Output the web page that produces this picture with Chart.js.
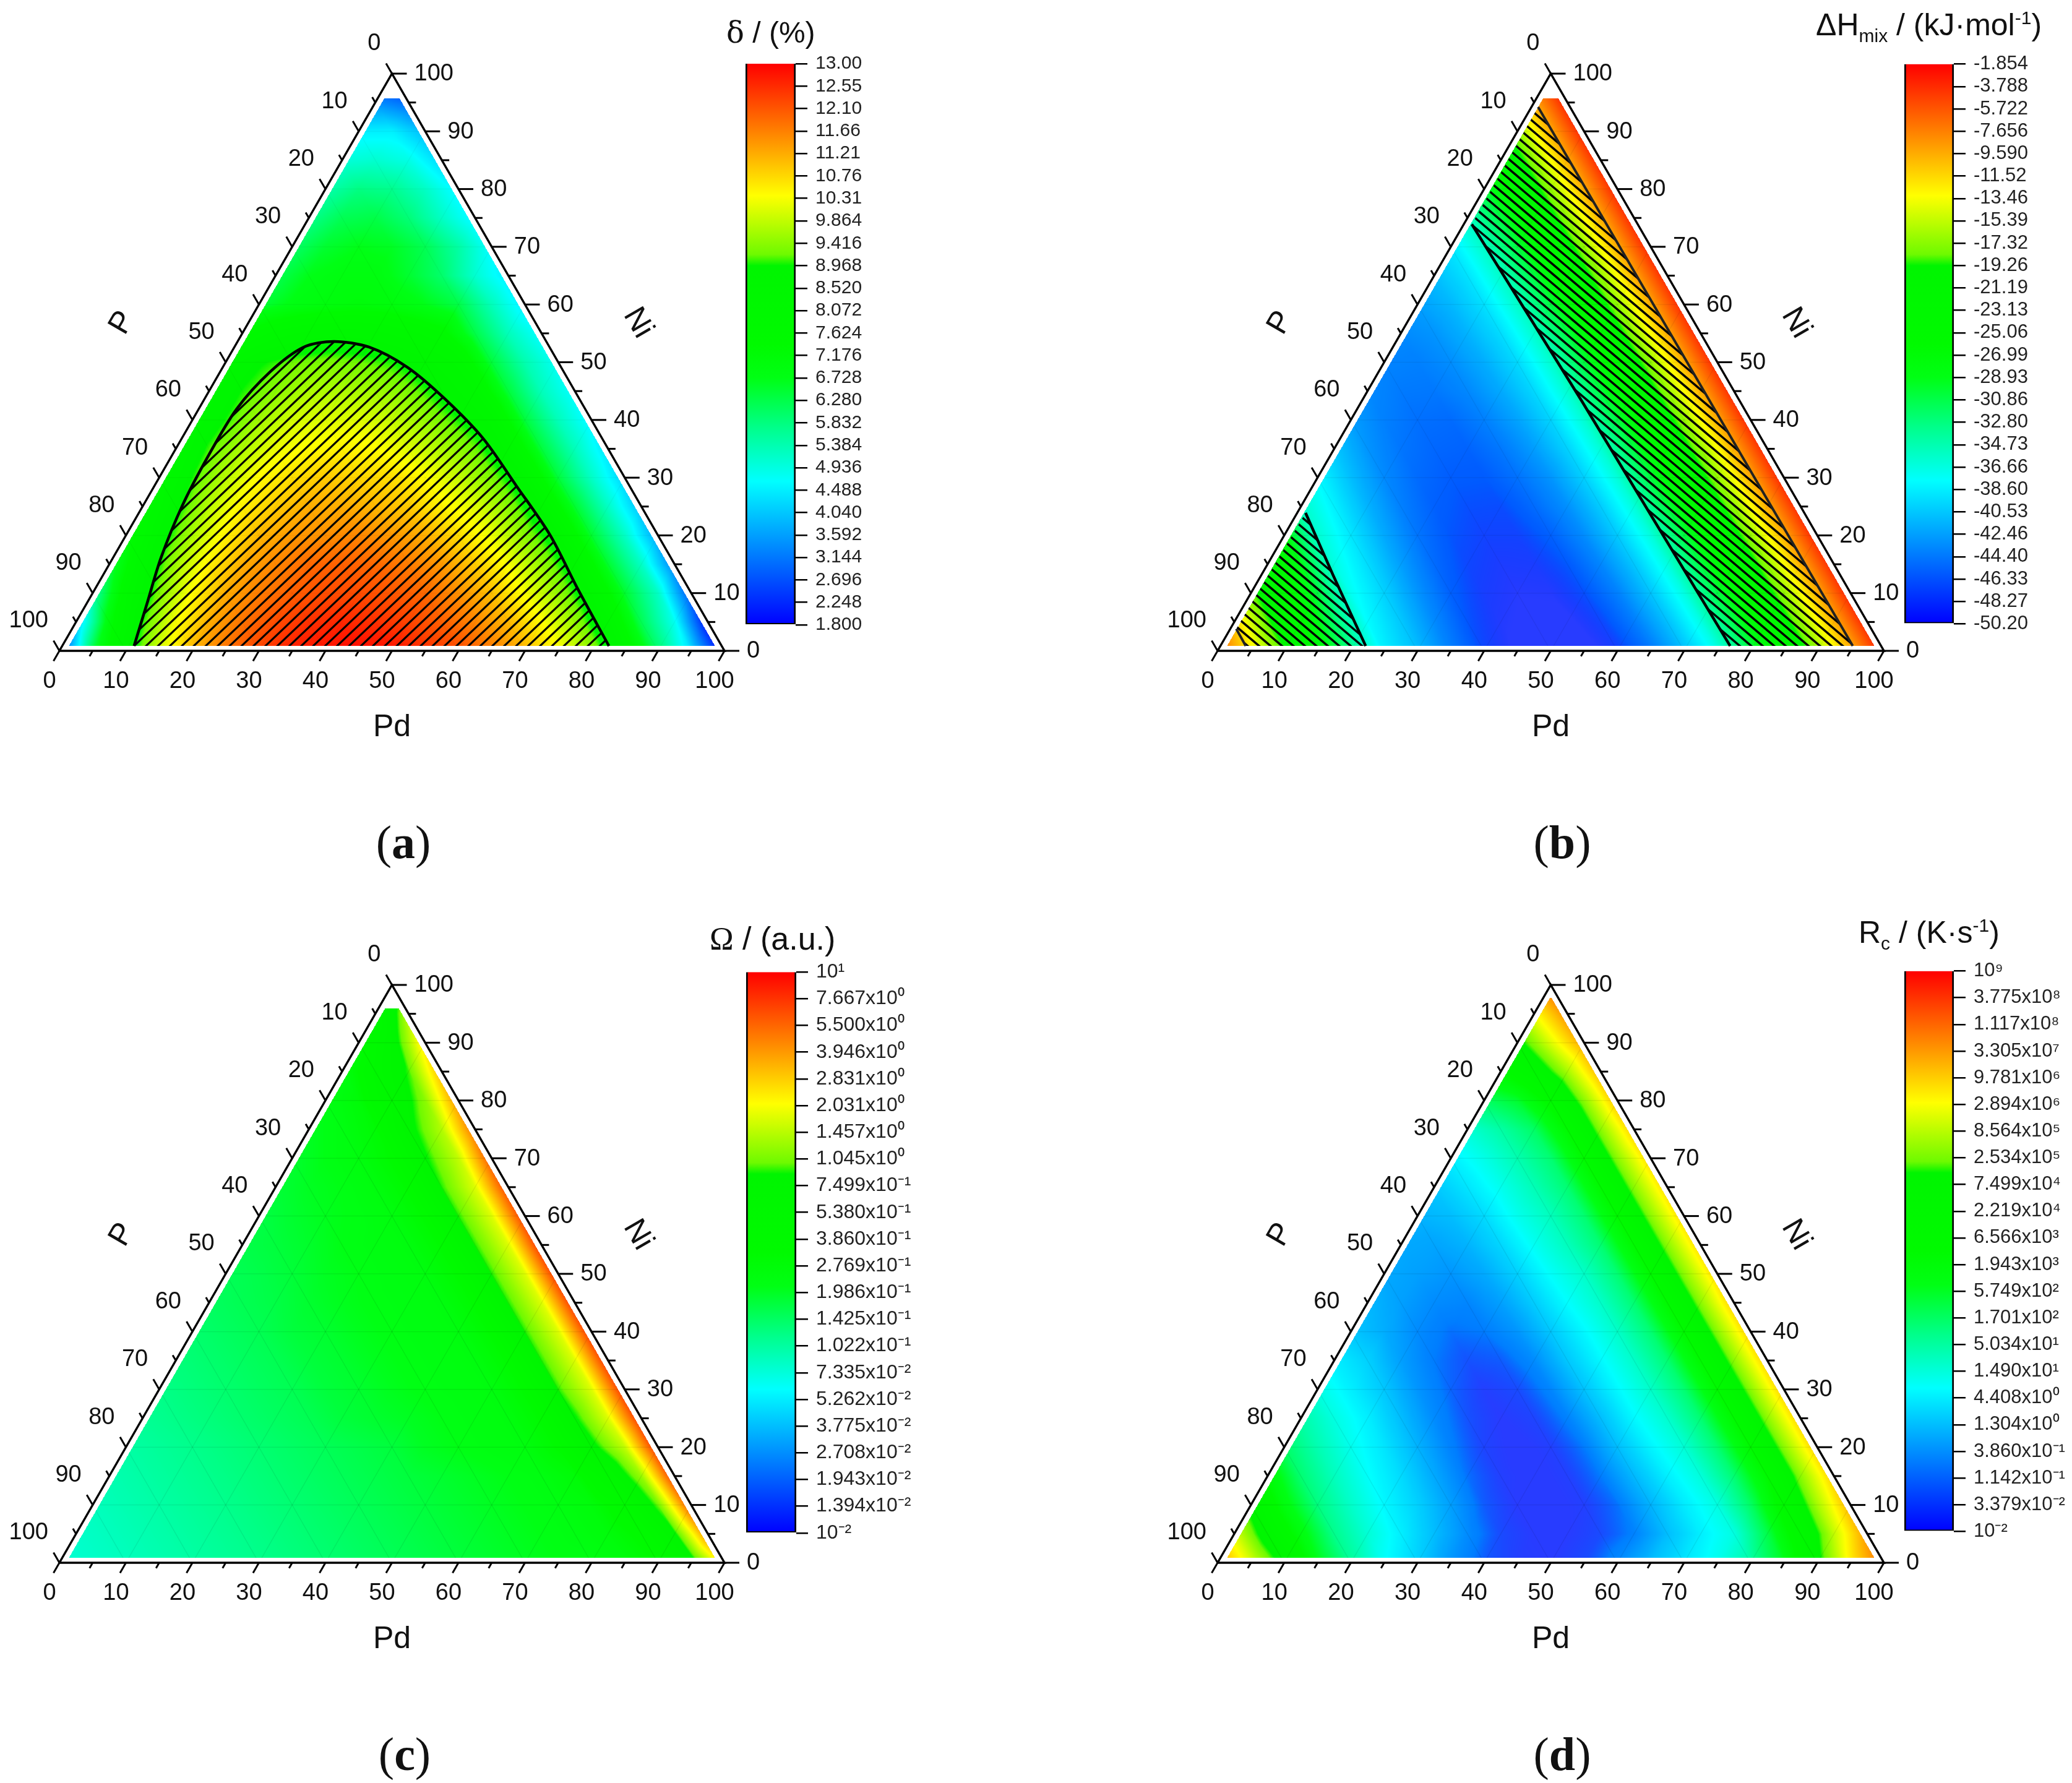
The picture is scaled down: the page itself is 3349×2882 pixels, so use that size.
<!DOCTYPE html>
<html>
<head>
<meta charset="utf-8">
<script src="https://cdn.jsdelivr.net/npm/chart.js@4"></script>
<style>
  html, body { margin: 0; background: #fff; }
  body { position: relative; width: 3349px; height: 2882px; overflow: hidden; font-family: "Liberation Sans", Arial, sans-serif; color: #111; }
  canvas { position: absolute; }
  .title { position: absolute; white-space: nowrap; transform: translateY(-50%); }
  .title sub, .title sup { font-size: 60%; line-height: 0; }
  .panel { position: absolute; font: 76px "Liberation Serif", serif; transform: translate(-50%, -50%); }
</style>
</head>
<body>
<script>
// ---- tick labels shared by the three ternary axes
const majorTicks = [0, 10, 20, 30, 40, 50, 60, 70, 80, 90, 100];
const minorTicks = [5, 15, 25, 35, 45, 55, 65, 75, 85, 95];

// ---- colour bar labels, top to bottom
const deltaLabels = ["13.00","12.55","12.10","11.66","11.21","10.76","10.31","9.864","9.416","8.968","8.520","8.072","7.624","7.176","6.728","6.280","5.832","5.384","4.936","4.488","4.040","3.592","3.144","2.696","2.248","1.800"];
const hmixLabels = ["-1.854","-3.788","-5.722","-7.656","-9.590","-11.52","-13.46","-15.39","-17.32","-19.26","-21.19","-23.13","-25.06","-26.99","-28.93","-30.86","-32.80","-34.73","-36.66","-38.60","-40.53","-42.46","-44.40","-46.33","-48.27","-50.20"];
const omegaLabels = ["10¹","7.667x10⁰","5.500x10⁰","3.946x10⁰","2.831x10⁰","2.031x10⁰","1.457x10⁰","1.045x10⁰","7.499x10⁻¹","5.380x10⁻¹","3.860x10⁻¹","2.769x10⁻¹","1.986x10⁻¹","1.425x10⁻¹","1.022x10⁻¹","7.335x10⁻²","5.262x10⁻²","3.775x10⁻²","2.708x10⁻²","1.943x10⁻²","1.394x10⁻²","10⁻²"];
const rcLabels = ["10⁹","3.775x10⁸","1.117x10⁸","3.305x10⁷","9.781x10⁶","2.894x10⁶","8.564x10⁵","2.534x10⁵","7.499x10⁴","2.219x10⁴","6.566x10³","1.943x10³","5.749x10²","1.701x10²","5.034x10¹","1.490x10¹","4.408x10⁰","1.304x10⁰","3.860x10⁻¹","1.142x10⁻¹","3.379x10⁻²","10⁻²"];

// ---- values on the composition grid: one row per Ni = 0, 5, ... 100, inside a row Pd = 0, 5, ...
// delta in %
const deltaGrid = [
  [2.4,6.3,8.5,10,11.1,11.8,12.3,12.7,12.8,12.9,12.8,12.5,12.2,11.7,11.1,10.4,9.5,8,6,4.3,1.8],
  [3.9,7.1,9,10.3,11.2,11.8,12.2,12.5,12.6,12.5,12.3,12,11.6,11.1,10.4,9.5,8.3,6.2,4.8,1.9],
  [5.3,7.8,9.3,10.4,11.2,11.7,12,12.2,12.2,12.1,11.9,11.5,11,10.3,9.5,8.5,6.5,5.2,2.7],
  [6.2,8.3,9.6,10.5,11.2,11.6,11.9,12,11.9,11.7,11.4,10.9,10.3,9.5,8.6,6.5,5.2,3.2],
  [6.9,8.6,9.7,10.5,11.1,11.4,11.5,11.6,11.4,11.2,10.7,10.2,9.4,8.6,6.5,5.2,3.6],
  [7.4,8.8,9.8,10.5,10.9,11.2,11.2,11.1,10.9,10.5,10.1,9.4,8.5,6.5,5.2,3.9],
  [7.8,9,9.8,10.4,10.7,10.9,10.8,10.7,10.4,9.9,9.3,8.5,6.4,5.2,4.1],
  [8,9.1,9.7,10.2,10.4,10.5,10.4,10.1,9.7,9.2,8.4,6.4,5.3,4.3],
  [8.2,9,9.6,10,10.1,10.1,9.9,9.5,9,8.4,6.4,5.3,4.5],
  [8.3,9,9.4,9.7,9.7,9.6,9.3,8.8,8.2,6.4,5.3,4.6],
  [8.2,8.9,9.2,9.3,9.2,9,8.6,8.1,6.4,5.4,4.7],
  [7.4,8,8.3,8.4,8.3,8,7.6,6.3,5.3,4.6],
  [6.4,6.8,7,7.1,7,6.7,6.3,5.3,4.4],
  [6.2,6.7,6.9,6.9,6.5,6,5.1,4.4],
  [6,6.5,6.7,6.6,6.2,5.5,4.6],
  [5.7,6.2,6.3,5.9,5.2,4.5],
  [5.4,5.8,5.7,5.2,4.5],
  [5,5.1,4.9,4.2],
  [4.5,4.5,3.9],
  [3.4,3],
  [2]
];
// mixing enthalpy in kJ/mol
const hmixGrid = [
  [-6,-12.5,-19,-27,-33,-38.5,-41,-44,-46.5,-48,-48.7,-48.5,-47,-44.5,-41,-37,-31,-24,-17,-10,-3],
  [-11,-18.5,-25.5,-32,-37.9,-40.5,-43.5,-46,-47.5,-48.2,-48.1,-46.6,-44.2,-40.9,-36.8,-30.8,-24,-17,-9.8,-3],
  [-18,-24.5,-30.5,-37.3,-40,-43,-45.5,-47,-47.7,-47.6,-46.2,-44,-40.7,-36.7,-30.7,-24,-17,-9.7,-3],
  [-23.5,-29,-36.7,-39.5,-42.5,-45,-46.5,-47.2,-47.1,-45.9,-43.7,-40.6,-36.6,-30.6,-24,-17,-9.6,-3],
  [-28,-36,-39,-42,-44.5,-46,-46.7,-46.7,-45.5,-43.4,-40.4,-36.5,-30.6,-24,-17,-9.6,-3],
  [-35.5,-38.5,-41.5,-44,-45.5,-46.2,-46.3,-45,-43.2,-40.3,-36.4,-30.5,-24,-17,-9.5,-3],
  [-38,-41,-43.5,-45,-45.7,-45.8,-44.7,-43,-40.1,-36.3,-30.5,-24,-17,-9.5,-3],
  [-40.5,-43,-44.5,-45.2,-45.4,-44.4,-42.6,-40,-36.2,-30.5,-24,-17,-9.5,-3],
  [-42.5,-44,-44.8,-45,-44,-42.3,-39.9,-36.1,-30.5,-24,-17,-9.5,-3],
  [-43.5,-44.3,-44.4,-43.6,-42,-39.7,-36,-30.5,-24,-17,-9.5,-3],
  [-43.8,-44,-43.3,-41.8,-39.6,-36,-30.5,-24,-17,-9.5,-3],
  [-43.5,-43,-41.5,-39.5,-35.9,-30.5,-24,-17,-9.5,-3],
  [-42.5,-41.3,-39.3,-35.8,-30.5,-24,-17,-9.5,-3],
  [-41,-39.2,-35.7,-30.5,-24,-17,-9.5,-3],
  [-39,-35.6,-30.5,-24,-17,-9.5,-3],
  [-35.5,-30.5,-24,-17,-9.5,-3],
  [-30.5,-24,-17,-9.5,-3],
  [-24,-17,-9.5,-3],
  [-17,-9.5,-3],
  [-9.5,-3],
  [-3]
];
// log10 of Omega
const omegaGrid = [
  [-1.13,-1.1,-1.07,-1.04,-1.01,-.98,-.95,-.92,-.89,-.86,-.83,-.8,-.77,-.74,-.71,-.68,-.67,-.62,-.5,-.2,.4],
  [-1.1,-1.07,-1.04,-1.01,-.98,-.95,-.92,-.89,-.86,-.83,-.8,-.77,-.74,-.71,-.68,-.65,-.59,-.47,-.11,.64],
  [-1.07,-1.04,-1.01,-.98,-.95,-.92,-.89,-.86,-.83,-.8,-.77,-.74,-.71,-.68,-.65,-.59,-.41,-.02,.79],
  [-1.04,-1.01,-.98,-.95,-.92,-.89,-.86,-.83,-.8,-.77,-.74,-.71,-.68,-.65,-.56,-.29,.07,.88],
  [-1.01,-.98,-.95,-.92,-.89,-.86,-.83,-.8,-.77,-.71,-.68,-.65,-.62,-.5,-.14,.16,.91],
  [-.97,-.94,-.91,-.88,-.85,-.82,-.77,-.74,-.71,-.68,-.65,-.62,-.5,-.1,.22,.91],
  [-.94,-.91,-.88,-.85,-.82,-.77,-.74,-.7,-.67,-.65,-.62,-.5,-.065,.22,.91],
  [-.91,-.88,-.85,-.82,-.77,-.74,-.7,-.67,-.65,-.62,-.5,-.065,.22,.91],
  [-.88,-.85,-.82,-.77,-.74,-.7,-.67,-.65,-.62,-.5,-.065,.22,.91],
  [-.85,-.82,-.79,-.74,-.7,-.67,-.65,-.62,-.5,-.065,.22,.91],
  [-.83,-.8,-.76,-.71,-.68,-.65,-.62,-.5,-.065,.22,.91],
  [-.8,-.77,-.73,-.68,-.65,-.62,-.5,-.065,.22,.91],
  [-.79,-.74,-.7,-.67,-.62,-.5,-.065,.22,.88],
  [-.76,-.71,-.68,-.62,-.5,-.065,.22,.85],
  [-.74,-.68,-.62,-.5,-.1,.16,.79],
  [-.71,-.65,-.53,-.14,.13,.7],
  [-.68,-.56,-.26,.04,.61],
  [-.65,-.35,-.05,.52],
  [-.59,-.2,.4],
  [-.5,.16],
  [-.2]
];
// log10 of Rc
const rcGrid = [
  [7.46,6.14,4.82,2.84,1.74,.86,.31,-.35,-.79,-1.01,-1.07,-.9,-.46,.09,.53,.97,1.63,2.73,4.82,6.58,7.9],
  [6.14,4.6,3.06,1.85,1.19,.64,.09,-.46,-.9,-1.07,-1.07,-.9,-.57,.09,.64,1.08,2.4,4.05,5.92,7.46],
  [4.82,3.06,1.96,1.3,.75,.31,-.24,-.79,-1.07,-1.12,-1.01,-.68,-.02,.59,1.08,2.18,3.83,5.7,7.24],
  [3.28,2.07,1.41,.86,.42,-.13,-.68,-1.01,-1.12,-1.01,-.63,.04,.64,1.14,2.07,3.5,5.48,7.02],
  [2.18,1.52,.97,.53,-.02,-.57,-.96,-1.12,-1.01,-.63,.09,.7,1.19,2.07,3.5,5.48,7.02],
  [1.63,1.08,.64,.09,-.46,-.85,-1.07,-.96,-.57,.09,.75,1.25,2.07,3.5,5.48,7.02],
  [1.08,.64,.2,-.35,-.74,-1.01,-.9,-.52,.15,.75,1.3,2.07,3.5,5.48,7.02],
  [.64,.31,-.24,-.63,-.85,-.79,-.46,.2,.75,1.3,2.07,3.5,5.48,7.02],
  [.2,-.08,-.46,-.68,-.63,-.35,.2,.75,1.3,2.07,3.5,5.48,7.02],
  [.04,-.24,-.46,-.52,-.24,.26,.81,1.3,2.07,3.5,5.48,7.02],
  [-.13,-.24,-.35,-.13,.31,.86,1.3,2.07,3.5,5.48,6.91],
  [-.13,-.19,-.02,.37,.92,1.41,2.07,3.5,5.48,6.91],
  [-.02,.09,.42,.97,1.41,2.07,3.5,5.48,6.91],
  [.2,.53,.97,1.47,2.07,3.5,5.48,6.91],
  [.64,1.03,1.52,2.07,3.5,5.48,6.91],
  [1.19,1.63,2.18,3.5,5.48,7.02],
  [2.18,2.62,3.72,5.48,7.13],
  [3.5,4.38,5.7,7.24],
  [4.82,6.14,7.35],
  [6.36,7.57],
  [7.9]
];

// ---- boundaries of the hatched regions, in composition units
const deltaEdgePd = [10.8,9.1,7.2,5.9,5.5,5.7,7.5,10.4,14.5,20.3,27.8,36.2,45.3,54.4,63.7,72.6,82.2];
const deltaEdgeNi = [0.85,8.1,16.2,25.2,33.8,41.9,48.3,52.6,53.6,52.6,49.1,43.6,36.8,28.6,20.1,10.7,0.85];
const hmixInnerPd = [1.2,33.1,76.5];
const hmixInnerNi = [73.9,43.2,0.85];
const hmixOuterPd = [1,94.9];
const hmixOuterNi = [94.2,0.85];
const hmixLowPd = [1.25,10.7,21.8];
const hmixLowNi = [23.9,13.2,0.85];
const hmixCornerPd = [0.9,3.8];
const hmixCornerNi = [3.8,0.85];

// ---- colour map of the colour bars, position from bottom (0) to top (1)
const mapStops = [0, .256, .35, .44, .5, .64, .66, .765, .88, 1];
const mapColors = [[0,0,255],[0,255,255],[0,255,140],[0,255,20],[0,250,0],[0,245,0],[110,250,0],[255,255,0],[255,128,0],[255,0,0]];

const colorLut = [];
for (let i = 0; i <= 1023; i++) {
    const f = i / 1023;
    let k = 0;
    while (k < mapStops.length - 2 && f > mapStops[k + 1]) k++;
    const t = (f - mapStops[k]) / (mapStops[k + 1] - mapStops[k]);
    colorLut.push(mapColors[k].map((c, n) => Math.round(c + (mapColors[k + 1][n] - c) * t)));
}
// the deepest values of (b) and (d) show a lighter violet blue in the field than in the bar
const deepBlue = [40, 60, 255];

// composition -> scale coordinates (x runs along the Pd axis, y along Ni)
const toXY = (pd, ni) => ({ x: pd + ni / 2, y: ni });
const edgePoints = (pds, nis) => pds.map((p, i) => toXY(p, nis[i]));

function gridValue(grid, pd, ni) {
    const gi = Math.min(Math.floor(ni / 5), 19);
    const gj = Math.min(Math.floor(pd / 5), 19 - gi);
    const u = pd / 5 - gj, v = ni / 5 - gi;
    if (u + v <= 1) return grid[gi][gj] * (1 - u - v) + grid[gi][gj + 1] * u + grid[gi + 1][gj] * v;
    return grid[gi + 1][gj + 1] * (u + v - 1) + grid[gi][gj + 1] * (1 - v) + grid[gi + 1][gj] * (1 - u);
}

const ternaryPlugin = {
    id: "ternary",
    beforeDatasetsDraw(chart, args, o) {
        const { ctx, scales: { x, y } } = chart;
        const a = chart.chartArea;
        const px = (pd, ni) => [x.getPixelForValue(pd + ni / 2), y.getPixelForValue(ni)];
        const trace = (pts) => {
            ctx.beginPath();
            pts.forEach((p, i) => { const q = px(p[0], p[1]); i ? ctx.lineTo(q[0], q[1]) : ctx.moveTo(q[0], q[1]); });
            ctx.closePath();
        };

        // colour field
        const w = Math.ceil(a.right - a.left), h = Math.ceil(a.bottom - a.top);
        const off = document.createElement("canvas");
        off.width = w; off.height = h;
        const oc = off.getContext("2d");
        const img = oc.createImageData(w, h);
        for (let j = 0; j < h; j++) {
            const ni = y.getValueForPixel(a.top + j + 0.5);
            if (ni < 0.85 || ni > o.top) continue;
            for (let i = 0; i < w; i++) {
                const pd = x.getValueForPixel(a.left + i + 0.5) - ni / 2;
                if (pd < 1 || 100 - pd - ni < 1) continue;
                const f = (gridValue(o.grid, pd, ni) - o.min) / (o.max - o.min);
                const c = colorLut[Math.max(0, Math.min(1023, Math.round(f * 1023)))];
                // blend towards the violet blue over a small range of the deepest values
                const mix = o.deep ? Math.max(0, Math.min(1, (o.deep[1] - f) / (o.deep[1] - o.deep[0]))) : 0;
                const n = (j * w + i) * 4;
                img.data[n] = c[0] + (deepBlue[0] - c[0]) * mix;
                img.data[n + 1] = c[1] + (deepBlue[1] - c[1]) * mix;
                img.data[n + 2] = c[2] + (deepBlue[2] - c[2]) * mix;
                img.data[n + 3] = 255;
            }
        }
        oc.putImageData(img, 0, 0);
        ctx.drawImage(off, a.left, a.top);

        // faint 10% grid on the colour field
        ctx.save();
        trace([[1, 0.85], [98.15, 0.85], [99 - o.top, o.top], [1, o.top]]);
        ctx.clip();
        ctx.strokeStyle = "rgba(0,0,0," + o.gridAlpha + ")";
        ctx.lineWidth = 1.5;
        majorTicks.slice(1, -1).forEach(t => {
            [[[0, t], [100 - t, t]], [[t, 0], [t, 100 - t]], [[0, 100 - t], [100 - t, 0]]].forEach(seg => {
                const p = px(seg[0][0], seg[0][1]), q = px(seg[1][0], seg[1][1]);
                ctx.beginPath(); ctx.moveTo(p[0], p[1]); ctx.lineTo(q[0], q[1]); ctx.stroke();
            });
        });
        ctx.restore();

        // hatching inside the marked regions
        o.hatch.forEach(poly => {
            ctx.save();
            trace(poly);
            ctx.clip();
            ctx.strokeStyle = "#000";
            ctx.lineWidth = o.hatchWidth;
            const span = a.bottom - a.top;
            for (let k = -1200; k < 2400; k += o.hatchStep) {
                ctx.beginPath();
                ctx.moveTo(a.left + k, a.bottom);
                ctx.lineTo(a.left + k + span * o.hatchRun, a.top);
                ctx.stroke();
            }
            ctx.restore();
        });
    },
    afterDatasetsDraw(chart, args, o) {
        const { ctx, scales: { x, y } } = chart;
        const px = (pd, ni) => [x.getPixelForValue(pd + ni / 2), y.getPixelForValue(ni)];
        ctx.save();
        ctx.strokeStyle = "#000";
        ctx.fillStyle = "#111";
        ctx.lineWidth = 3;
        const tick = (p, dx, dy) => { ctx.beginPath(); ctx.moveTo(p[0], p[1]); ctx.lineTo(p[0] + dx, p[1] + dy); ctx.stroke(); };
        const drawTicks = (list, major) => list.forEach(t => {
            const side = major ? 24 : 12, slant = major ? 19 : 10;
            tick(px(t, 0), -slant * 0.5, slant * 0.866);           // Pd, bottom
            tick(px(100 - t, t), side, 0);                         // Ni, right
            tick(px(0, 100 - t), -slant * 0.5, -slant * 0.866);    // P, left
        });
        drawTicks(majorTicks, true);
        drawTicks(minorTicks, false);

        ctx.font = "38px 'Liberation Sans', Arial, sans-serif";
        ctx.textBaseline = "middle";
        majorTicks.forEach(t => {
            let p = px(t, 0);
            ctx.textAlign = "center";
            ctx.fillText(String(t), p[0] - 16, p[1] + 50);
            p = px(100 - t, t);
            ctx.textAlign = "left";
            ctx.fillText(String(t), p[0] + 36, p[1] + 1);
            p = px(0, 100 - t);
            ctx.textAlign = "right";
            ctx.fillText(String(t), p[0] - 18, p[1] - 48);
        });

        // axis titles
        const a = chart.chartArea;
        ctx.font = "50px 'Liberation Sans', Arial, sans-serif";
        ctx.textAlign = "center";
        ctx.fillText("Pd", (a.left + a.right) / 2, a.bottom + 124);
        const rot = (txt, dx, ang) => {
            ctx.save();
            ctx.translate(a.left + dx, a.bottom - 530);
            ctx.rotate(ang);
            ctx.fillText(txt, 0, 0);
            ctx.restore();
        };
        rot("P", 102, -Math.PI / 3);
        rot("Ni", 935, Math.PI / 3);
        ctx.restore();
    }
};

function makeTernary(box, left, top, right, bottom, opts, datasets) {
    const cv = document.createElement("canvas");
    cv.width = box.w; cv.height = box.h;
    cv.style.left = box.x + "px"; cv.style.top = box.y + "px";
    document.body.appendChild(cv);
    const frame = { data: [toXY(0, 0), toXY(100, 0), toXY(0, 100), toXY(0, 0)], borderColor: "#000", borderWidth: 3.5 };
    const all = datasets.concat([frame]).map(d => Object.assign({ showLine: true, pointRadius: 0, clip: false, tension: 0 }, d));
    return new Chart(cv, {
        type: "scatter",
        data: { datasets: all },
        options: {
            responsive: false,
            animation: false,
            layout: { padding: { left: left - box.x, top: top - box.y, right: box.x + box.w - right, bottom: box.y + box.h - bottom } },
            scales: {
                x: { type: "linear", min: 0, max: 100, display: false },
                y: { type: "linear", min: 0, max: 100, display: false }
            },
            plugins: { legend: { display: false }, tooltip: { enabled: false }, ternary: opts }
        },
        plugins: [ternaryPlugin]
    });
}

function makeBar(left, top, right, bottom, labels, fontSize) {
    const cv = document.createElement("canvas");
    const pad = 30, axisW = 210;
    cv.width = right - left + pad + axisW; cv.height = bottom - top + pad * 2;
    cv.style.left = (left - pad) + "px"; cv.style.top = (top - pad) + "px";
    document.body.appendChild(cv);
    const n = labels.length - 1;
    return new Chart(cv, {
        type: "bar",
        data: {
            labels: [""],
            datasets: [{
                data: [[0, n]],
                barPercentage: 1,
                categoryPercentage: 1,
                borderColor: "#000",
                borderWidth: { left: 3, right: 3, top: 0, bottom: 2 },
                borderSkipped: false,
                backgroundColor: ctx => {
                    const a = ctx.chart.chartArea;
                    if (!a) return "#000";
                    const g = ctx.chart.ctx.createLinearGradient(0, a.bottom, 0, a.top);
                    mapStops.forEach((s, i) => g.addColorStop(s, "rgb(" + mapColors[i].join(",") + ")"));
                    return g;
                }
            }]
        },
        options: {
            responsive: false,
            animation: false,
            layout: { padding: { left: pad, top: pad, right: 0, bottom: pad } },
            scales: {
                x: { display: false },
                y: {
                    position: "right",
                    min: 0,
                    max: n,
                    afterFit: s => { s.width = axisW; },
                    afterBuildTicks: s => { s.ticks = labels.map((l, i) => ({ value: i })); },
                    grid: { drawOnChartArea: false, tickLength: 19, tickColor: "#000", lineWidth: 2.5, tickWidth: 2.5 },
                    border: { display: false },
                    ticks: {
                        autoSkip: false,
                        padding: 13,
                        color: "#222",
                        font: { family: "'Liberation Sans', Arial, sans-serif", size: fontSize },
                        callback: v => labels[n - v]
                    }
                }
            },
            plugins: { legend: { display: false }, tooltip: { enabled: false } }
        }
    });
}

function addTitle(html, left, midY, size) {
    const d = document.createElement("div");
    d.className = "title";
    d.innerHTML = html;
    d.style.left = left + "px"; d.style.top = midY + "px"; d.style.fontSize = size + "px";
    document.body.appendChild(d);
}
function addPanelTag(letter, cx, cy) {
    const d = document.createElement("div");
    d.className = "panel";
    d.innerHTML = "(<b>" + letter + "</b>)";
    d.style.left = cx + "px"; d.style.top = cy + "px";
    document.body.appendChild(d);
}

const boxA = { x: 0, y: 0, w: 1260, h: 1250 };
const boxB = { x: 1880, y: 0, w: 1260, h: 1250 };
const boxC = { x: 0, y: 1470, w: 1260, h: 1250 };
const boxD = { x: 1880, y: 1470, w: 1260, h: 1250 };
const rowOf = (pds, nis) => pds.map((p, i) => [p, nis[i]]);

makeTernary(boxA, 96, 119, 1171, 1052, {
    grid: deltaGrid, min: 1.8, max: 13, top: 95.7, gridAlpha: 0.035,
    hatch: [rowOf(deltaEdgePd, deltaEdgeNi)], hatchStep: 19.3, hatchRun: 1.05, hatchWidth: 3.2
}, [{ data: edgePoints(deltaEdgePd, deltaEdgeNi), borderColor: "#000", borderWidth: 4.5, tension: 0.3 }]);

makeTernary(boxB, 1968, 119, 3045, 1052, {
    grid: hmixGrid, min: -50.2, max: -1.854, top: 95.7, gridAlpha: 0.06, deep: [0.05, 0.09],
    hatch: [
        rowOf(hmixInnerPd, hmixInnerNi).concat(rowOf(hmixOuterPd, hmixOuterNi).reverse()),
        rowOf(hmixLowPd, hmixLowNi).concat(rowOf(hmixCornerPd, hmixCornerNi).reverse())
    ],
    hatchStep: 18.5, hatchRun: -1.18, hatchWidth: 3.5
}, [
    { data: edgePoints(hmixInnerPd, hmixInnerNi), borderColor: "#000", borderWidth: 4.5 },
    { data: edgePoints(hmixOuterPd, hmixOuterNi), borderColor: "#222", borderWidth: 4 },
    { data: edgePoints(hmixLowPd, hmixLowNi), borderColor: "#000", borderWidth: 4.5 },
    { data: edgePoints(hmixCornerPd, hmixCornerNi), borderColor: "#222", borderWidth: 4 }
]);

makeTernary(boxC, 96, 1592, 1171, 2526, {
    grid: omegaGrid, min: -2, max: 1, top: 95.9, gridAlpha: 0.07, hatch: []
}, []);

makeTernary(boxD, 1968, 1592, 3045, 2526, {
    grid: rcGrid, min: -2, max: 9, top: 97.8, gridAlpha: 0.07, deep: [0.085, 0.125], hatch: []
}, []);

makeBar(1205, 102, 1286, 1011, deltaLabels, 30);
makeBar(3078, 102, 3158, 1010, hmixLabels, 31);
makeBar(1206, 1569, 1287, 2480, omegaLabels, 32);
makeBar(3078, 1568, 3158, 2477, rcLabels, 31);

addTitle("<span style=\"font-family:'DejaVu Serif'\">δ</span> / (%)", 1174, 52, 48);
addTitle("ΔH<sub>mix</sub> / (kJ·mol<sup>-1</sup>)", 2935, 40, 50);
addTitle("<span style=\"font-family:'Liberation Serif'\">Ω</span> / (a.u.)", 1147, 1517, 52);
addTitle("R<sub>c</sub> / (K·s<sup>-1</sup>)", 3004, 1507, 50);

addPanelTag("a", 652, 1361);
addPanelTag("b", 2525, 1361);
addPanelTag("c", 654, 2835);
addPanelTag("d", 2525, 2835);
</script>
</body>
</html>
